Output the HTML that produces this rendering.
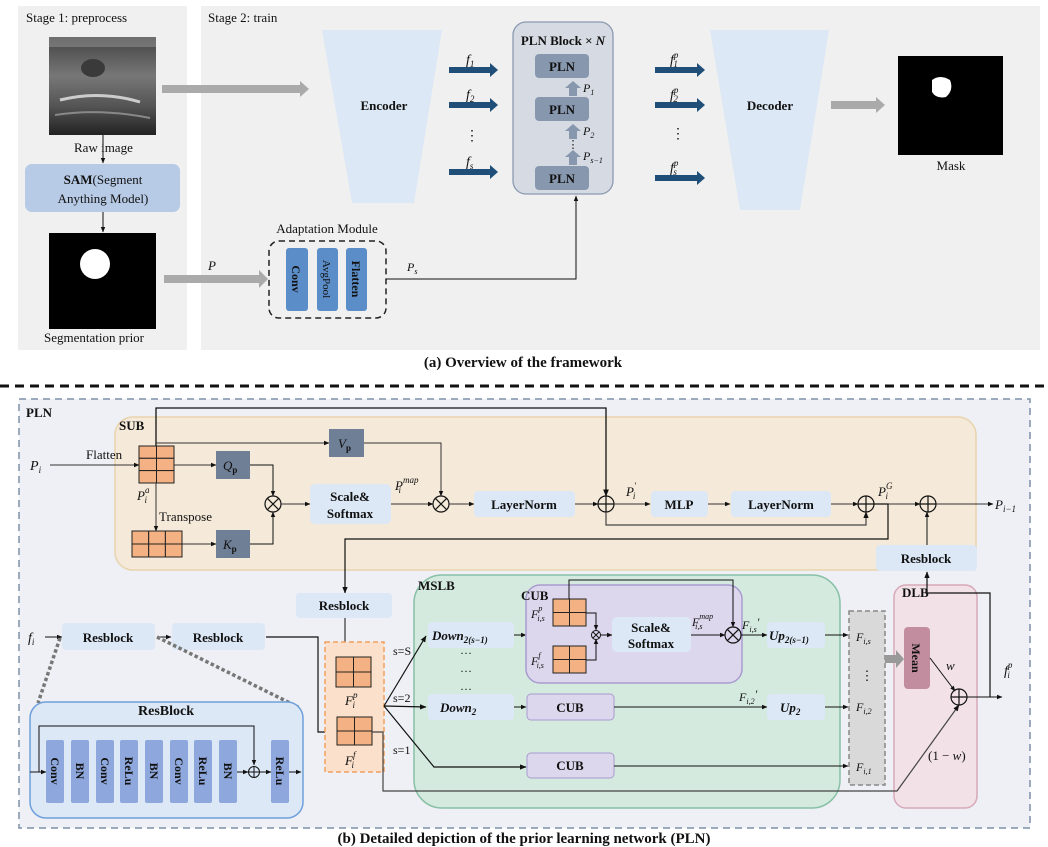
<!DOCTYPE html>
<html><head><meta charset="utf-8"><style>
html,body{margin:0;padding:0;background:#fff}
svg{display:block}
text{font-family:"Liberation Serif",serif;fill:#111}
.b{font-weight:bold}
.i{font-style:italic}
</style></head><body>
<svg width="1048" height="847" viewBox="0 0 1048 847" xmlns="http://www.w3.org/2000/svg">
<defs>
<marker id="a" markerWidth="6" markerHeight="6" refX="5" refY="3" orient="auto"><path d="M0,0.8 L5.5,3 L0,5.2z" fill="#111"/></marker>
<linearGradient id="us" x1="0" y1="0" x2="0" y2="1"><stop offset="0" stop-color="#444"/><stop offset="0.4" stop-color="#777"/><stop offset="0.7" stop-color="#555"/><stop offset="1" stop-color="#222"/></linearGradient>
</defs>
<rect x="18" y="6" width="169" height="344" fill="#f0f0f0"/>
<rect x="201" y="6" width="839" height="344" fill="#f0f0f0"/>
<text x="26" y="22" font-size="13">Stage 1: preprocess</text>
<text x="208" y="22" font-size="13">Stage 2: train</text>
<rect x="49" y="37" width="107" height="98" fill="url(#us)"/>
<rect x="49" y="37" width="107" height="10" fill="#999" opacity="0.5"/>
<ellipse cx="93" cy="68" rx="12" ry="9" fill="#3a3a3a"/>
<path d="M60,100 Q100,90 140,102" stroke="#ccc" stroke-width="3" fill="none"/>
<path d="M55,115 Q100,108 150,118" stroke="#888" stroke-width="2" fill="none"/>
<text x="74" y="152" font-size="13">Raw image</text>
<line x1="103" y1="135" x2="103" y2="163" stroke="#111" marker-end="url(#a)"/>
<rect x="25" y="164" width="155" height="48" rx="7" fill="#b7cbe6"/>
<text x="103" y="184" font-size="13" text-anchor="middle"><tspan class="b">SAM</tspan>(Segment</text>
<text x="103" y="203" font-size="13" text-anchor="middle">Anything Model)</text>
<line x1="103" y1="212" x2="103" y2="232" stroke="#111" marker-end="url(#a)"/>
<rect x="49" y="233" width="107" height="96" fill="#000"/>
<circle cx="95" cy="264" r="15" fill="#fff"/>
<text x="44" y="342" font-size="13">Segmentation prior</text>
<path d="M162,85 L300,85 L300,81 L309,89 L300,97 L300,93 L162,93z" fill="#aaa"/>
<path d="M164,275 L259,275 L259,270 L268,279 L259,288 L259,283 L164,283z" fill="#aaa"/>
<text x="208" y="270" font-size="13" class="i">P</text>
<path d="M322,30 L442,30 L414,203 L352,203z" fill="#dce8f5"/>
<text x="384" y="110" font-size="13" class="b" text-anchor="middle">Encoder</text>
<g fill="#1f4e79">
<path d="M449,67 L490,67 L490,63 L498,70 L490,77 L490,73 L449,73z"/>
<path d="M449,102 L490,102 L490,98 L498,105 L490,112 L490,108 L449,108z"/>
<path d="M449,169 L490,169 L490,165 L498,172 L490,179 L490,175 L449,175z"/>
<path d="M655,67 L697,67 L697,63 L705,70 L697,77 L697,73 L655,73z"/>
<path d="M655,102 L697,102 L697,98 L705,105 L697,112 L697,108 L655,108z"/>
<path d="M655,175 L697,175 L697,171 L705,178 L697,185 L697,181 L655,181z"/>
</g>
<text x="466" y="64" font-size="14" class="i">f<tspan font-size="9" dy="3">1</tspan></text>
<text x="466" y="99" font-size="14" class="i">f<tspan font-size="9" dy="3">2</tspan></text>
<text x="472" y="140" font-size="14" text-anchor="middle">⋮</text>
<text x="466" y="166" font-size="14" class="i">f<tspan font-size="9" dy="3">s</tspan></text>
<text x="670" y="64" font-size="14" class="i">f<tspan font-size="9" dy="-6">p</tspan><tspan font-size="9" dx="-5" dy="9">1</tspan></text>
<text x="670" y="99" font-size="14" class="i">f<tspan font-size="9" dy="-6">p</tspan><tspan font-size="9" dx="-5" dy="9">2</tspan></text>
<text x="678" y="138" font-size="14" text-anchor="middle">⋮</text>
<text x="670" y="172" font-size="14" class="i">f<tspan font-size="9" dy="-6">p</tspan><tspan font-size="9" dx="-5" dy="9">s</tspan></text>
<rect x="513" y="22" width="100" height="172" rx="13" fill="#d6dbe3" stroke="#8a9ab0" stroke-width="1.3"/>
<text x="563" y="45" font-size="13" class="b" text-anchor="middle">PLN Block × <tspan class="i">N</tspan></text>
<rect x="535" y="54" width="54" height="24" rx="4" fill="#8797ae"/>
<rect x="535" y="97" width="54" height="24" rx="4" fill="#8797ae"/>
<rect x="535" y="166" width="54" height="24" rx="4" fill="#8797ae"/>
<text x="562" y="71" font-size="13" class="b" text-anchor="middle">PLN</text>
<text x="562" y="114" font-size="13" class="b" text-anchor="middle">PLN</text>
<text x="562" y="183" font-size="13" class="b" text-anchor="middle">PLN</text>
<g fill="#8797ae">
<path d="M569,96 L569,88 L565,88 L573,81 L581,88 L577,88 L577,96z"/>
<path d="M569,139 L569,131 L565,131 L573,124 L581,131 L577,131 L577,139z"/>
<path d="M569,165 L569,157 L565,157 L573,150 L581,157 L577,157 L577,165z"/>
</g>
<text x="583" y="92" font-size="12" class="i">P<tspan font-size="8" dy="3">1</tspan></text>
<text x="583" y="135" font-size="12" class="i">P<tspan font-size="8" dy="3">2</tspan></text>
<text x="573" y="148" font-size="11" text-anchor="middle">⋮</text>
<text x="583" y="160" font-size="12" class="i">P<tspan font-size="8" dy="3">s−1</tspan></text>
<path d="M710,30 L829,30 L800,210 L740,210z" fill="#dce8f5"/>
<text x="770" y="110" font-size="13" class="b" text-anchor="middle">Decoder</text>
<path d="M831,101 L876,101 L876,97 L885,105 L876,113 L876,109 L831,109z" fill="#aaa"/>
<rect x="898" y="56" width="105" height="99" fill="#000"/>
<path d="M932,80 Q940,74 950,80 Q954,90 946,97 Q936,99 932,92z" fill="#fff"/>
<text x="951" y="170" font-size="13" text-anchor="middle">Mask</text>
<text x="327" y="233" font-size="13" text-anchor="middle">Adaptation Module</text>
<rect x="269" y="241" width="117" height="77" rx="10" fill="none" stroke="#222" stroke-width="1.5" stroke-dasharray="6,4"/>
<rect x="286" y="248" width="22" height="63" rx="3" fill="#5b8ec8"/>
<rect x="317" y="248" width="21" height="63" rx="3" fill="#5b8ec8"/>
<rect x="346" y="248" width="21" height="63" rx="3" fill="#5b8ec8"/>
<text transform="translate(292,279) rotate(90)" font-size="12" class="b" text-anchor="middle">Conv</text>
<text transform="translate(323,279) rotate(90)" font-size="11" text-anchor="middle">AvgPool</text>
<text transform="translate(352,279) rotate(90)" font-size="12" class="b" text-anchor="middle">Flatten</text>
<polyline points="386,279 576,279 576,196" fill="none" stroke="#111" marker-end="url(#a)"/>
<text x="407" y="271" font-size="12" class="i">P<tspan font-size="8" dy="3">s</tspan></text>
<text x="523" y="367" font-size="15" class="b" text-anchor="middle">(a) Overview of the framework</text>
<line x1="0" y1="386" x2="1048" y2="386" stroke="#111" stroke-width="3" stroke-dasharray="9,6"/>

<rect x="19" y="399" width="1011" height="429" fill="#eef0f5" stroke="#7d8fa8" stroke-width="1.5" stroke-dasharray="7,5"/>
<text x="26" y="417" font-size="13" class="b">PLN</text>
<rect x="115" y="417" width="861" height="153" rx="18" fill="#f5ead9" stroke="#e8d3ad" stroke-width="1.5"/>
<text x="119" y="430" font-size="13" class="b">SUB</text>
<rect x="414" y="575" width="426" height="233" rx="28" fill="#d5eadf" stroke="#88c0a6" stroke-width="1.5"/>
<text x="418" y="590" font-size="13" class="b">MSLB</text>
<rect x="894" y="585" width="83" height="223" rx="12" fill="#f2e2e7" stroke="#d6a9b8" stroke-width="1.5"/>
<text x="902" y="597" font-size="13" class="b">DLB</text>

<text x="30" y="470" font-size="14" class="i">P<tspan font-size="9" dy="3">i</tspan></text>
<line x1="50" y1="465" x2="139" y2="465" stroke="#333" marker-end="url(#a)"/>
<text x="86" y="459" font-size="13">Flatten</text>
<g fill="#f4b183" stroke="#222" stroke-width="1">
<rect x="139" y="446" width="17.5" height="12.3"/><rect x="156.5" y="446" width="17.5" height="12.3"/>
<rect x="139" y="458.3" width="17.5" height="12.3"/><rect x="156.5" y="458.3" width="17.5" height="12.3"/>
<rect x="139" y="470.6" width="17.5" height="12.4"/><rect x="156.5" y="470.6" width="17.5" height="12.4"/>
<rect x="132" y="531" width="16.7" height="13"/><rect x="148.7" y="531" width="16.7" height="13"/><rect x="165.4" y="531" width="16.6" height="13"/>
<rect x="132" y="544" width="16.7" height="13"/><rect x="148.7" y="544" width="16.7" height="13"/><rect x="165.4" y="544" width="16.6" height="13"/>
</g>
<text x="137" y="500" font-size="13" class="i">P<tspan font-size="9" dy="-7">a</tspan><tspan font-size="9" dx="-5" dy="10">i</tspan></text>
<polyline points="156,446 156,408 606,408 606,496" fill="none" stroke="#111" stroke-width="1.3" marker-end="url(#a)"/>
<polyline points="156,443 329,443" fill="none" stroke="#333" marker-end="url(#a)"/>
<line x1="156" y1="483" x2="156" y2="531" stroke="#333" marker-end="url(#a)"/>
<text x="159" y="521" font-size="13">Transpose</text>
<rect x="329" y="429" width="35" height="28" fill="#6f7f96"/>
<text x="338" y="448" font-size="13" class="i">V<tspan font-size="9" dy="3" font-style="normal" class="b">p</tspan></text>
<polyline points="364,443 441,443 441,496" fill="none" stroke="#333" marker-end="url(#a)"/>
<line x1="174" y1="465" x2="216" y2="465" stroke="#333" marker-end="url(#a)"/>
<rect x="216" y="451" width="34" height="28" fill="#6f7f96"/>
<text x="223" y="470" font-size="13" class="i">Q<tspan font-size="9" dy="3" font-style="normal" class="b">p</tspan></text>
<polyline points="250,465 273,465 273,496" fill="none" stroke="#111" marker-end="url(#a)"/>
<line x1="182" y1="544" x2="216" y2="544" stroke="#333" marker-end="url(#a)"/>
<rect x="216" y="530" width="34" height="28" fill="#6f7f96"/>
<text x="223" y="549" font-size="13" class="i">K<tspan font-size="9" dy="3" font-style="normal" class="b">p</tspan></text>
<polyline points="250,544 273,544 273,512" fill="none" stroke="#111" marker-end="url(#a)"/>
<g fill="none" stroke="#111" stroke-width="1.2">
<circle cx="273" cy="504" r="8"/><path d="M267.3,498.3 L278.7,509.7 M278.7,498.3 L267.3,509.7"/>
<circle cx="441" cy="504" r="8"/><path d="M435.3,498.3 L446.7,509.7 M446.7,498.3 L435.3,509.7"/>
<circle cx="606" cy="504" r="8"/><path d="M598,504 L614,504 M606,496 L606,512"/>
<circle cx="866" cy="504" r="8"/><path d="M858,504 L874,504 M866,496 L866,512"/>
<circle cx="928" cy="504" r="8"/><path d="M920,504 L936,504 M928,496 L928,512"/>
</g>
<line x1="281" y1="504" x2="310" y2="504" stroke="#333" marker-end="url(#a)"/>
<rect x="310" y="484" width="81" height="40" rx="5" fill="#dce8f6"/>
<text x="350" y="501" font-size="13" class="b" text-anchor="middle">Scale&amp;</text>
<text x="350" y="518" font-size="13" class="b" text-anchor="middle">Softmax</text>
<text x="395" y="490" font-size="13" class="i">P<tspan font-size="9" dy="-7">map</tspan><tspan font-size="9" dx="-20" dy="10">i</tspan></text>
<line x1="391" y1="504" x2="433" y2="504" stroke="#333" marker-end="url(#a)"/>
<line x1="449" y1="504" x2="474" y2="504" stroke="#333" marker-end="url(#a)"/>
<rect x="474" y="491" width="101" height="26" rx="4" fill="#dce8f6"/>
<text x="524" y="509" font-size="13" class="b" text-anchor="middle">LayerNorm</text>
<line x1="575" y1="504" x2="598" y2="504" stroke="#333" marker-end="url(#a)"/>
<text x="626" y="496" font-size="13" class="i">P<tspan font-size="9" dy="-7">′</tspan><tspan font-size="9" dx="-3" dy="10">i</tspan></text>
<line x1="614" y1="504" x2="650" y2="504" stroke="#333" marker-end="url(#a)"/>
<rect x="651" y="491" width="57" height="26" rx="4" fill="#dce8f6"/>
<text x="679" y="509" font-size="13" class="b" text-anchor="middle">MLP</text>
<line x1="708" y1="504" x2="730" y2="504" stroke="#333" marker-end="url(#a)"/>
<rect x="731" y="491" width="100" height="26" rx="4" fill="#dce8f6"/>
<text x="781" y="509" font-size="13" class="b" text-anchor="middle">LayerNorm</text>
<line x1="831" y1="504" x2="858" y2="504" stroke="#333" marker-end="url(#a)"/>
<polyline points="606,512 606,525 866,525 866,512" fill="none" stroke="#444" stroke-width="1.2" marker-end="url(#a)"/>
<text x="878" y="496" font-size="13" class="i">P<tspan font-size="9" dy="-7">G</tspan><tspan font-size="9" dx="-7" dy="10">i</tspan></text>
<line x1="874" y1="504" x2="920" y2="504" stroke="#333" marker-end="url(#a)"/>
<polyline points="874,504 888,504 888,539 345,539 345,593" fill="none" stroke="#111" stroke-width="1.2" marker-end="url(#a)"/>
<line x1="936" y1="504" x2="993" y2="504" stroke="#333" marker-end="url(#a)"/>
<text x="995" y="509" font-size="13" class="i">P<tspan font-size="9" dy="3">i−1</tspan></text>
<rect x="876" y="545" width="101" height="26" rx="4" fill="#dce8f6"/>
<text x="926" y="563" font-size="13" class="b" text-anchor="middle">Resblock</text>
<line x1="927" y1="545" x2="927" y2="512" stroke="#111" marker-end="url(#a)"/>
<polyline points="990,697 990,593 927,593 927,572" fill="none" stroke="#111" stroke-width="1.2" marker-end="url(#a)"/>

<rect x="296" y="593" width="96" height="25" rx="4" fill="#dce8f6"/>
<text x="344" y="610" font-size="13" class="b" text-anchor="middle">Resblock</text>
<line x1="345" y1="618" x2="345" y2="656" stroke="#111" marker-end="url(#a)"/>
<text x="28" y="642" font-size="14" class="i">f<tspan font-size="9" dy="3">i</tspan></text>
<line x1="45" y1="637" x2="62" y2="637" stroke="#111" marker-end="url(#a)"/>
<rect x="62" y="623" width="93" height="27" rx="4" fill="#dce8f6"/>
<text x="108" y="642" font-size="13" class="b" text-anchor="middle">Resblock</text>
<line x1="157" y1="637" x2="171" y2="637" stroke="#111" marker-end="url(#a)"/>
<rect x="172" y="623" width="93" height="27" rx="4" fill="#dce8f6"/>
<text x="218" y="642" font-size="13" class="b" text-anchor="middle">Resblock</text>
<polyline points="266,637 318,637 318,732 337,732" fill="none" stroke="#111" stroke-width="1.2" marker-end="url(#a)"/>
<g stroke="#777" stroke-width="3.5" stroke-dasharray="3.5,2.5">
<line x1="60" y1="638" x2="38" y2="703"/><line x1="157" y1="637" x2="298" y2="707"/>
</g>
<rect x="30" y="702" width="273" height="116" rx="16" fill="#dde8f6" stroke="#6fa0da" stroke-width="1.5"/>
<text x="166" y="715" font-size="14" class="b" text-anchor="middle">ResBlock</text>
<polyline points="30,772 46,772" stroke="#111" marker-end="url(#a)"/>
<polyline points="39,772 39,726 254,726 254,765" fill="none" stroke="#111" marker-end="url(#a)"/>
<g fill="#8ea7dc">
<rect x="46" y="740" width="18" height="63" rx="2"/><rect x="71" y="740" width="18" height="63" rx="2"/>
<rect x="96" y="740" width="18" height="63" rx="2"/><rect x="120" y="740" width="18" height="63" rx="2"/>
<rect x="145" y="740" width="18" height="63" rx="2"/><rect x="170" y="740" width="18" height="63" rx="2"/>
<rect x="194" y="740" width="18" height="63" rx="2"/><rect x="219" y="740" width="18" height="63" rx="2"/>
<rect x="271" y="740" width="18" height="63" rx="2"/>
</g>
<g font-size="12" class="b" text-anchor="middle">
<text transform="translate(51,771) rotate(90)">Conv</text>
<text transform="translate(76,771) rotate(90)">BN</text>
<text transform="translate(101,771) rotate(90)">Conv</text>
<text transform="translate(125,771) rotate(90)">ReLu</text>
<text transform="translate(150,771) rotate(90)">BN</text>
<text transform="translate(175,771) rotate(90)">Conv</text>
<text transform="translate(199,771) rotate(90)">ReLu</text>
<text transform="translate(224,771) rotate(90)">BN</text>
<text transform="translate(276,771) rotate(90)">ReLu</text>
</g>
<line x1="237" y1="772" x2="248" y2="772" stroke="#111" marker-end="url(#a)"/>
<g fill="none" stroke="#111"><circle cx="254" cy="772" r="5.5"/><path d="M248.5,772 L259.5,772 M254,766.5 L254,777.5"/></g>
<line x1="260" y1="772" x2="271" y2="772" stroke="#111" marker-end="url(#a)"/>
<line x1="289" y1="772" x2="301" y2="772" stroke="#111" marker-end="url(#a)"/>

<rect x="325" y="642" width="59" height="130" fill="#fbe1cc" stroke="#f0a060" stroke-width="1.5" stroke-dasharray="5,3"/>
<g fill="#f4b183" stroke="#222">
<rect x="336" y="657" width="17.5" height="15"/><rect x="353.5" y="657" width="17.5" height="15"/>
<rect x="336" y="672" width="17.5" height="15"/><rect x="353.5" y="672" width="17.5" height="15"/>
<rect x="337" y="717" width="17.5" height="14"/><rect x="354.5" y="717" width="17.5" height="14"/>
<rect x="337" y="731" width="17.5" height="14"/><rect x="354.5" y="731" width="17.5" height="14"/>
</g>
<text x="345" y="705" font-size="13" class="i">F<tspan font-size="9" dy="-7">p</tspan><tspan font-size="9" dx="-5" dy="10">i</tspan></text>
<text x="345" y="765" font-size="13" class="i">F<tspan font-size="9" dy="-7">f</tspan><tspan font-size="9" dx="-4" dy="10">i</tspan></text>
<polyline points="372,732 383,732 383,791 897,791 959,705" fill="none" stroke="#444" stroke-width="1.2" marker-end="url(#a)"/>
<g fill="none" stroke="#111" stroke-width="1.2">
<line x1="384" y1="706" x2="426" y2="636" marker-end="url(#a)"/>
<line x1="384" y1="706" x2="426" y2="707" marker-end="url(#a)"/>
<polyline points="384,706 434,767 526,767" marker-end="url(#a)"/>
</g>
<text x="393" y="655" font-size="12">s=S</text>
<text x="393" y="702" font-size="12">s=2</text>
<text x="393" y="754" font-size="12">s=1</text>
<rect x="428" y="622" width="86" height="26" rx="4" fill="#dce8f6"/>
<text x="432" y="640" font-size="13" class="b i">Down<tspan font-size="9" dy="3">2(s−1)</tspan></text>
<text x="466" y="654" font-size="12" text-anchor="middle">…</text>
<text x="466" y="672" font-size="12" text-anchor="middle">…</text>
<text x="466" y="690" font-size="12" text-anchor="middle">…</text>
<rect x="428" y="694" width="86" height="26" rx="4" fill="#dce8f6"/>
<text x="440" y="712" font-size="13" class="b i">Down<tspan font-size="9" dy="3">2</tspan></text>
<line x1="514" y1="635" x2="526" y2="635" stroke="#111" marker-end="url(#a)"/>
<line x1="514" y1="707" x2="526" y2="707" stroke="#111" marker-end="url(#a)"/>
<rect x="526" y="585" width="216" height="98" rx="14" fill="#dcd7ec" stroke="#a99bcf" stroke-width="1.5"/>
<text x="521" y="600" font-size="13" class="b">CUB</text>
<g fill="#f4b183" stroke="#222">
<rect x="553" y="599" width="16.5" height="13.5"/><rect x="569.5" y="599" width="16.5" height="13.5"/>
<rect x="553" y="612.5" width="16.5" height="13.5"/><rect x="569.5" y="612.5" width="16.5" height="13.5"/>
<rect x="553" y="646" width="16.5" height="13.5"/><rect x="569.5" y="646" width="16.5" height="13.5"/>
<rect x="553" y="659.5" width="16.5" height="13.5"/><rect x="569.5" y="659.5" width="16.5" height="13.5"/>
</g>
<text x="531" y="618" font-size="12" class="i">F<tspan font-size="8" dy="-7">p</tspan><tspan font-size="8" dx="-5" dy="10">i,s</tspan></text>
<text x="531" y="665" font-size="12" class="i">F<tspan font-size="8" dy="-7">f</tspan><tspan font-size="8" dx="-4" dy="10">i,s</tspan></text>
<polyline points="586,613 596,613 596,630" fill="none" stroke="#111" marker-end="url(#a)"/>
<polyline points="586,660 596,660 596,639" fill="none" stroke="#111" marker-end="url(#a)"/>
<g fill="none" stroke="#111"><circle cx="596" cy="635" r="4.5"/><path d="M593,632 L599,638 M599,632 L593,638"/></g>
<line x1="600" y1="635" x2="612" y2="635" stroke="#111" marker-end="url(#a)"/>
<rect x="612" y="617" width="79" height="35" rx="5" fill="#dce8f6"/>
<text x="651" y="632" font-size="13" class="b" text-anchor="middle">Scale&amp;</text>
<text x="651" y="648" font-size="13" class="b" text-anchor="middle">Softmax</text>
<text x="692" y="626" font-size="12" class="i">F<tspan font-size="8" dy="-7">map</tspan><tspan font-size="8" dx="-18" dy="10">i,s</tspan></text>
<line x1="691" y1="635" x2="725" y2="635" stroke="#111" marker-end="url(#a)"/>
<polyline points="569,599 569,580 733,580 733,627" fill="none" stroke="#111" marker-end="url(#a)"/>
<g fill="none" stroke="#111" stroke-width="1.2"><circle cx="733" cy="635" r="8"/><path d="M727.3,629.3 L738.7,640.7 M738.7,629.3 L727.3,640.7"/></g>
<line x1="741" y1="635" x2="767" y2="635" stroke="#111" marker-end="url(#a)"/>
<text x="742" y="629" font-size="12" class="i">F<tspan font-size="8" dy="3">i,s</tspan><tspan dy="-6">′</tspan></text>
<rect x="767" y="622" width="58" height="26" rx="4" fill="#dce8f6"/>
<text x="769" y="640" font-size="13" class="b i">Up<tspan font-size="9" dy="3">2(s−1)</tspan></text>
<line x1="825" y1="635" x2="848" y2="635" stroke="#111" marker-end="url(#a)"/>
<rect x="527" y="694" width="87" height="26" rx="4" fill="#dcd7ec" stroke="#a99bcf"/>
<text x="570" y="712" font-size="13" class="b" text-anchor="middle">CUB</text>
<line x1="614" y1="707" x2="767" y2="707" stroke="#111" marker-end="url(#a)"/>
<text x="739" y="701" font-size="12" class="i">F<tspan font-size="8" dy="3">i,2</tspan><tspan dy="-6">′</tspan></text>
<rect x="767" y="694" width="58" height="26" rx="4" fill="#dce8f6"/>
<text x="780" y="712" font-size="13" class="b i">Up<tspan font-size="9" dy="3">2</tspan></text>
<line x1="825" y1="707" x2="848" y2="707" stroke="#111" marker-end="url(#a)"/>
<rect x="527" y="753" width="87" height="25" rx="4" fill="#dcd7ec" stroke="#a99bcf"/>
<text x="570" y="770" font-size="13" class="b" text-anchor="middle">CUB</text>
<line x1="614" y1="766" x2="848" y2="766" stroke="#111" marker-end="url(#a)"/>
<rect x="849" y="611" width="36" height="174" fill="#d9d9d9" stroke="#888" stroke-width="1.5" stroke-dasharray="5,3"/>
<text x="856" y="641" font-size="12" class="i">F<tspan font-size="8" dy="3">i,s</tspan></text>
<text x="867" y="680" font-size="13" text-anchor="middle">⋮</text>
<text x="856" y="711" font-size="12" class="i">F<tspan font-size="8" dy="3">i,2</tspan></text>
<text x="856" y="771" font-size="12" class="i">F<tspan font-size="8" dy="3">i,1</tspan></text>
<path d="M885,655 L896,655 L896,650 L904,659 L896,668 L896,663 L885,663z" fill="#999"/>
<rect x="904" y="627" width="26" height="62" rx="4" fill="#c38da0"/>
<text transform="translate(912,658) rotate(90)" font-size="12" class="b" text-anchor="middle">Mean</text>
<line x1="930" y1="658" x2="955" y2="691" stroke="#111" marker-end="url(#a)"/>
<text x="946" y="670" font-size="13" class="i">w</text>
<g fill="none" stroke="#111" stroke-width="1.2"><circle cx="959" cy="697" r="8"/><path d="M951,697 L967,697 M959,689 L959,705"/></g>
<text x="928" y="760" font-size="13">(1 − <tspan class="i">w</tspan>)</text>
<line x1="967" y1="697" x2="1002" y2="697" stroke="#111" marker-end="url(#a)"/>
<text x="1004" y="675" font-size="14" class="i">f<tspan font-size="9" dy="-7">p</tspan><tspan font-size="9" dx="-5" dy="10">i</tspan></text>
<text x="524" y="843" font-size="15" class="b" text-anchor="middle">(b) Detailed depiction of the prior learning network (PLN)</text>
</svg>
</body></html>
